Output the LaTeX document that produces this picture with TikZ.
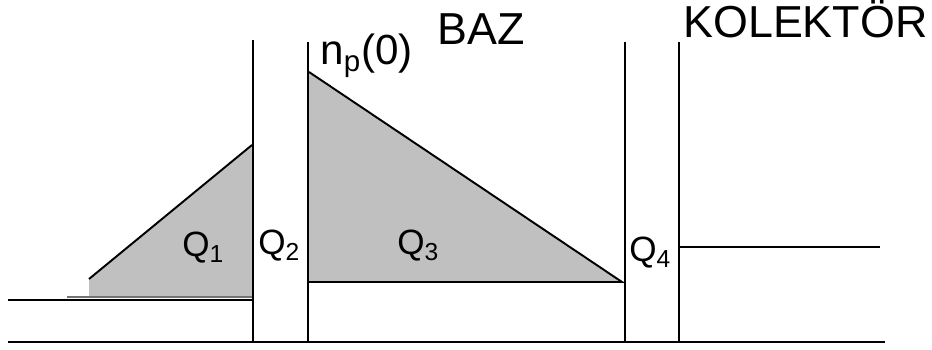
\documentclass[tikz,border=0pt]{standalone}
\usepackage{fontspec}
\setmainfont{Liberation Sans}
\definecolor{qgray}{RGB}{192,192,192}
\begin{document}
\begin{tikzpicture}[x=0.02cm, y=-0.02cm,
    wall/.style={line width=1.6pt, black},
    edge/.style={line width=1.1pt, black},
    charge/.style={fill=qgray},
    lbl/.style={inner sep=0pt, anchor=base west, font=\fontsize{20}{22}\selectfont},
    region/.style={inner sep=0pt, anchor=base west, font=\fontsize{25.5}{28}\selectfont}
  ]
    \useasboundingbox (0,0) rectangle (932,350);
    % charge triangles
    \fill[charge] (89,297) -- (89,279) -- (252,145) -- (252,297) -- cycle;
    \draw[qgray!60!black, line width=0.6pt] (67,297) -- (252,297);
    \draw[edge] (89,279) -- (252,145);
    \fill[charge] (309,72) -- (622,282) -- (309,282) -- cycle;
    \draw[edge] (309,72) -- (622,282) -- (309,282);

    % junction walls
    \draw[wall] (253,40) -- (253,342);
    \draw[wall] (308,42) -- (308,342);
    \draw[wall] (625,42) -- (625,342);
    \draw[wall] (679,42) -- (679,342);

    % levels
    \draw[wall] (8,342) -- (885,342);
    \draw[wall] (8,300) -- (253,300);
    \draw[wall] (679,247) -- (880,247);

    % labels
    \node[lbl] (q1) at (182,257) {Q\textsubscript{1}};
    \node[lbl] (q2) at (258,255) {Q\textsubscript{2}};
    \node[lbl] (q3) at (397,255) {Q\textsubscript{3}};
    \node[lbl] (q4) at (629,262) {Q\textsubscript{4}};
    \node[lbl, font=\fontsize{24}{26}\selectfont] (np) at (320,65) {n\textsubscript{p}(0)};
    \node[region] (baz) at (437,45) {BAZ};
    \node[region] (kol) at (683,38) {KOLEKTÖR};
  \end{tikzpicture}
\end{document}
